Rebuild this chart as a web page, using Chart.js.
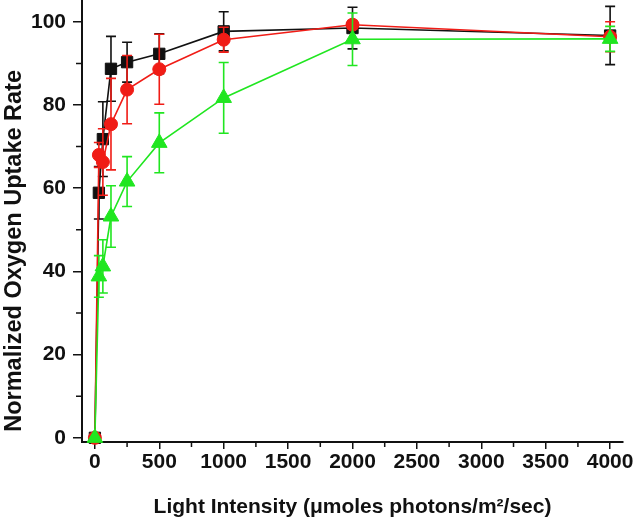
<!DOCTYPE html>
<html>
<head>
<meta charset="utf-8">
<script src="https://cdn.jsdelivr.net/npm/chart.js@4"></script>
<style>
  html, body { margin: 0; padding: 0; background: #fff; }
  #wrap { width: 633px; height: 520px; }
</style>
</head>
<body>
<div id="wrap"><canvas id="uptakeChart" width="633" height="520"></canvas></div>
<script>
// light levels (umol photons/m2/sec) and normalized uptake per strain
const lightLevels = [0, 31, 62, 125, 250, 500, 1000, 2000, 4000];
const blackRate = [0, 58.9, 71.8, 88.7, 90.3, 92.3, 97.7, 98.5, 96.7];
const blackErr  = [0, 6.3, 9, 7.8, 4.8, 4.8, 4.7, 5, 7];
const redRate   = [0, 68.0, 66.3, 75.4, 83.7, 88.6, 95.7, 99.3, 96.4];
const redErr    = [0, 3, 8, 11, 8.2, 8.4, 3, 1, 3.6];
const greenRate = [0, 38.8, 41.2, 53.2, 61.6, 70.9, 81.7, 95.8, 95.9];
const greenErr  = [0, 5, 6.4, 7.4, 6, 7.2, 8.5, 6.3, 3];

const xTickLabels = [0, 500, 1000, 1500, 2000, 2500, 3000, 3500, 4000];
const yTickLabels = [0, 20, 40, 60, 80, 100];
const yMinorTicks = [10, 30, 50, 70, 90];
const xMinorTicks = [250, 750, 1250, 1750, 2250, 2750, 3250, 3750];

const BLACK = "#111111";
const RED = "#f01c16";
const GREEN = "#20e620";
const FONT = "'Liberation Sans', Arial, sans-serif";

function toPoints(vals) {
  return lightLevels.map((x, i) => ({ x: x, y: vals[i] }));
}

// error bars drawn just before each dataset so markers sit on top
const errorBars = {
  id: "errorBars",
  beforeDatasetDraw(chart, args) {
    const ds = chart.data.datasets[args.index];
    if (!ds.errors) return;
    const xs = chart.scales.x, ys = chart.scales.y;
    const ctx = chart.ctx;
    ctx.save();
    ctx.strokeStyle = ds.borderColor;
    ctx.lineWidth = 1.6;
    ds.data.forEach((p, i) => {
      const e = ds.errors[i];
      if (!e) return;
      const px = xs.getPixelForValue(p.x);
      const top = ys.getPixelForValue(p.y + e);
      const bot = ys.getPixelForValue(p.y - e);
      ctx.beginPath();
      ctx.moveTo(px, top); ctx.lineTo(px, bot);
      ctx.moveTo(px - 5, top); ctx.lineTo(px + 5, top);
      ctx.moveTo(px - 5, bot); ctx.lineTo(px + 5, bot);
      ctx.stroke();
    });
    ctx.restore();
  }
};

// shorter minor ticks outside the axes
const minorTicks = {
  id: "minorTicks",
  afterDraw(chart) {
    const xs = chart.scales.x, ys = chart.scales.y;
    const ctx = chart.ctx;
    const area = chart.chartArea;
    ctx.save();
    ctx.strokeStyle = BLACK;
    ctx.lineWidth = 1.5;
    ctx.beginPath();
    yMinorTicks.forEach(v => {
      const py = ys.getPixelForValue(v);
      ctx.moveTo(area.left - 6, py); ctx.lineTo(area.left, py);
    });
    xMinorTicks.forEach(v => {
      const px = xs.getPixelForValue(v);
      ctx.moveTo(px, area.bottom); ctx.lineTo(px, area.bottom + 5);
    });
    ctx.stroke();
    ctx.restore();
  }
};

function series(label, vals, errs, color, shape, radius, order) {
  return {
    label: label,
    data: toPoints(vals),
    errors: errs,
    borderColor: color,
    backgroundColor: color,
    borderWidth: 1.6,
    pointStyle: shape,
    pointRadius: radius,
    pointBorderWidth: 1,
    pointBackgroundColor: color,
    pointBorderColor: color,
    tension: 0,
    clip: false,
    order: order
  };
}

new Chart(document.getElementById("uptakeChart"), {
  type: "line",
  data: {
    datasets: [
      series("black", blackRate, blackErr, BLACK, "rect", 8, 3),
      series("red", redRate, redErr, RED, "circle", 6.5, 2),
      series("green", greenRate, greenErr, GREEN, "triangle", 9, 1)
    ]
  },
  options: {
    responsive: false,
    animation: false,
    layout: { autoPadding: false, padding: { top: 1, right: 10, left: 0, bottom: 0 } },
    plugins: {
      legend: { display: false },
      tooltip: { enabled: false }
    },
    scales: {
      x: {
        type: "linear",
        min: -100,
        max: 4100,
        afterBuildTicks(scale) { scale.ticks = xTickLabels.map(v => ({ value: v })); },
        afterFit(scale) { scale.height = 78; scale.paddingLeft = 0; scale.paddingRight = 0; },
        border: { color: BLACK, width: 2 },
        grid: { drawOnChartArea: false, tickLength: 7, color: BLACK, lineWidth: 1.5 },
        ticks: {
          maxRotation: 0,
          autoSkip: false,
          color: BLACK,
          padding: 1,
          callback: v => String(v),
          font: { family: FONT, size: 21, weight: "bold" }
        },
        title: {
          display: true,
          text: "Light Intensity (\u03bcmoles photons/m\u00b2/sec)",
          color: BLACK,
          padding: { top: 11, bottom: 0 },
          font: { family: FONT, size: 21, weight: "bold" }
        }
      },
      y: {
        min: -1,
        max: 105,
        afterBuildTicks(scale) { scale.ticks = yTickLabels.map(v => ({ value: v })); },
        afterFit(scale) { scale.width = 82; scale.paddingTop = 0; scale.paddingBottom = 0; },
        border: { color: BLACK, width: 2 },
        grid: { drawOnChartArea: false, tickLength: 9, color: BLACK, lineWidth: 1.5 },
        ticks: {
          color: BLACK,
          padding: 7,
          font: { family: FONT, size: 21, weight: "bold" }
        },
        title: {
          display: true,
          // trailing spaces push the rotated title down to where the original sits
          text: "Normalized Oxygen Uptake Rate         ",
          color: BLACK,
          padding: { top: 0, bottom: 0 },
          font: { family: FONT, size: 23.5, weight: "bold" }
        }
      }
    }
  },
  plugins: [errorBars, minorTicks]
});
</script>
</body>
</html>
